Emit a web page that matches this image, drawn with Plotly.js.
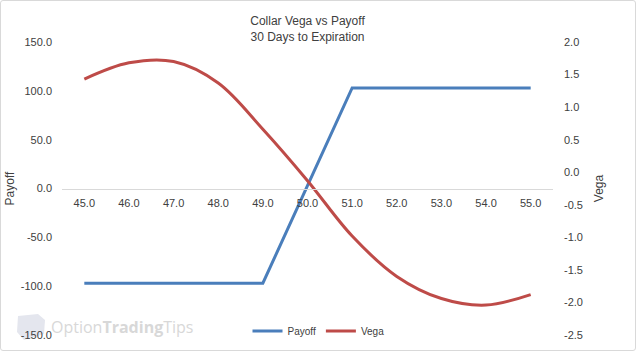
<!DOCTYPE html>
<html>
<head>
<meta charset="utf-8">
<script src="https://cdn.plot.ly/plotly-3.0.1.min.js"></script>
<style>
  html, body { margin: 0; padding: 0; background: #fff; }
  #wrap { position: relative; width: 640px; height: 352px; }
  #chart { width: 640px; height: 352px; }
  #frame { position: absolute; left: 0; top: 0; width: 634px; height: 349px; border: 1px solid #d9d9d9; border-radius: 3px; pointer-events: none; }
</style>
</head>
<body>
<div id="wrap">
  <div id="chart"></div>
  <div id="frame"></div>
</div>
<script>
// ---- data ----
const prices = ["45.0", "46.0", "47.0", "48.0", "49.0", "50.0", "51.0", "52.0", "53.0", "54.0", "55.0"];
const payoff = [-97, -97, -97, -97, -97, 3, 103, 103, 103, 103, 103];
const vega = [1.43, 1.68, 1.70, 1.37, 0.66, -0.13, -0.98, -1.60, -1.94, -2.04, -1.88];
const payoffTicks = [-150, -100, -50, 0, 50, 100, 150];
const payoffTickText = ["-150.0", "-100.0", "-50.0", "0.0", "50.0", "100.0", "150.0"];
const vegaTicks = [-2.5, -2.0, -1.5, -1.0, -0.5, 0, 0.5, 1.0, 1.5, 2.0];
const vegaTickText = ["-2.5", "-2.0", "-1.5", "-1.0", "-0.5", "0.0", "0.5", "1.0", "1.5", "2.0"];

const FONT = "Liberation Sans, Arial, sans-serif";
const TXT = "#404040";

const traces = [
  {
    x: prices, y: payoff, name: "Payoff", type: "scatter", mode: "lines",
    line: { color: "#4a7ebb", width: 3 }, yaxis: "y"
  },
  {
    x: prices, y: vega, name: "Vega", type: "scatter", mode: "lines",
    line: { color: "#be4b48", width: 3, shape: "spline", smoothing: 1 }, yaxis: "y2"
  }
];

const layout = {
  width: 640, height: 352,
  margin: { l: 62, r: 87, t: 42, b: 17, pad: 0, autoexpand: false },
  paper_bgcolor: "#ffffff", plot_bgcolor: "rgba(0,0,0,0)",
  font: { family: FONT, size: 11, color: TXT },
  showlegend: true,
  title: {
    text: "Collar Vega vs Payoff<br>30 Days to Expiration",
    font: { family: FONT, size: 12, color: TXT },
    x: 0.5, xanchor: "center", xref: "paper",
    y: 1 - 25 / 352, yanchor: "middle", yref: "container"
  },
  xaxis: {
    type: "category", range: [-0.5, 10.5],
    anchor: "free", position: 0.5,
    showline: true, linecolor: "#d9d9d9", linewidth: 1,
    showgrid: false, zeroline: false, ticks: "",
    ticklabelstandoff: 4,
    tickfont: { family: FONT, size: 11, color: TXT },
    fixedrange: true
  },
  yaxis: {
    range: [-150, 150], tickvals: payoffTicks, ticktext: payoffTickText,
    showgrid: false, zeroline: false, showline: false, ticks: "",
    ticklabelstandoff: 9,
    tickfont: { family: FONT, size: 11, color: TXT },
    title: { text: "Payoff", font: { family: FONT, size: 12, color: TXT }, standoff: 3 },
    automargin: true
  },
  yaxis2: {
    range: [-2.5, 2.0], tickvals: vegaTicks, ticktext: vegaTickText,
    overlaying: "y", side: "right",
    showgrid: false, zeroline: false, showline: false, ticks: "",
    ticklabelstandoff: 10,
    tickfont: { family: FONT, size: 11, color: TXT },
    title: { text: "Vega", font: { family: FONT, size: 12, color: TXT }, standoff: 12 },
    automargin: false
  },
  legend: {
    orientation: "h", x: 0.5 + 11 / 491, xanchor: "center",
    y: (335 - 331) / 293, yanchor: "middle",
    font: { family: FONT, size: 10, color: TXT },
    bgcolor: "rgba(0,0,0,0)", itemwidth: 30, tracegroupgap: 0
  },
  annotations: [
    {
      xref: "paper", yref: "paper",
      x: (49 - 62) / 491, xanchor: "left",
      y: (335 - 327) / 293, yanchor: "middle",
      text: "Option<b>Trading</b>Tips", showarrow: false,
      font: { family: "Open Sans, Liberation Sans, sans-serif", size: 16, color: "#d8d8d8" }
    }
  ],
  shapes: [
    {
      type: "path", xref: "paper", yref: "paper",
      path: "M " + ((18 - 62) / 491) + " " + ((335 - 316) / 293) +
            " L " + ((38 - 62) / 491) + " " + ((335 - 314) / 293) +
            " L " + ((45 - 62) / 491) + " " + ((335 - 320) / 293) +
            " L " + ((44 - 62) / 491) + " " + ((335 - 334) / 293) +
            " L " + ((24 - 62) / 491) + " " + ((335 - 340) / 293) +
            " L " + ((17 - 62) / 491) + " " + ((335 - 332) / 293) + " Z",
      fillcolor: "#e4e6ee", line: { width: 0 }, layer: "below"
    }
  ]
};

Plotly.newPlot("chart", traces, layout, { staticPlot: true, displayModeBar: false });
</script>
</body>
</html>
